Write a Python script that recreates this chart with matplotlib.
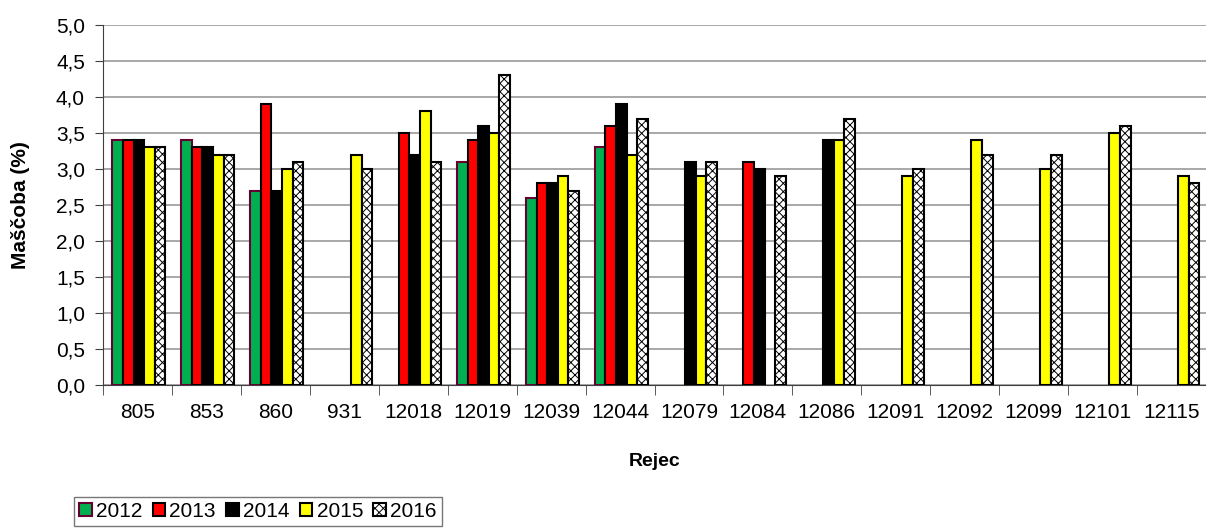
import matplotlib
matplotlib.use("Agg")

import numpy as np
import matplotlib.pyplot as plt

plt.rcParams['font.family'] = ['Liberation Sans', 'DejaVu Sans']
plt.rcParams['hatch.linewidth'] = 0.7

# Podatki
rejci = ["805", "853", "860", "931", "12018", "12019", "12039", "12044",
         "12079", "12084", "12086", "12091", "12092", "12099", "12101", "12115"]
leta = ["2012", "2013", "2014", "2015", "2016"]

nan = np.nan
v2012 = [3.4, 3.4, 2.7, nan, nan, 3.1, 2.6, 3.3, nan, nan, nan, nan, nan, nan, nan, nan]
v2013 = [3.4, 3.3, 3.9, nan, 3.5, 3.4, 2.8, 3.6, nan, 3.1, nan, nan, nan, nan, nan, nan]
v2014 = [3.4, 3.3, 2.7, nan, 3.2, 3.6, 2.8, 3.9, 3.1, 3.0, 3.4, nan, nan, nan, nan, nan]
v2015 = [3.3, 3.2, 3.0, 3.2, 3.8, 3.5, 2.9, 3.2, 2.9, nan, 3.4, 2.9, 3.4, 3.0, 3.5, 2.9]
v2016 = [3.3, 3.2, 3.1, 3.0, 3.1, 4.3, 2.7, 3.7, 3.1, 2.9, 3.7, 3.0, 3.2, 3.2, 3.6, 2.8]

serije = [v2012, v2013, v2014, v2015, v2016]
barve = ["#00b050", "#ff0000", "#000000", "#ffff00", "#ffffff"]
robovi = ["#660033", "#000000", "#000000", "#000000", "#000000"]
vzorci = [None, None, None, None, "xxxx"]

fig = plt.figure(figsize=(12.06, 5.31), dpi=100)
ax = fig.add_axes([103 / 1206, 146 / 531, 1 - 103 / 1206, 360 / 531])

x = np.arange(len(rejci))
w = 0.154
for i, (vals, leto) in enumerate(zip(serije, leta)):
    ax.bar(x + (i - 2) * w + 0.02, vals, width=w, color=barve[i], edgecolor=robovi[i],
           linewidth=1.5, hatch=vzorci[i], label=leto, zorder=3)

ax.set_xlim(-0.5, len(rejci) - 0.5)
ax.set_ylim(0, 5)
yt = np.arange(0, 5.01, 0.5)
ax.set_yticks(yt)
ax.set_yticklabels([f"{t:.1f}".replace(".", ",") for t in yt])
ax.yaxis.grid(True, color="#999999", linewidth=1.2)
ax.set_axisbelow(True)

ax.set_xticks(x)
ax.set_xticklabels(rejci)
ax.set_xticks(np.arange(-0.5, len(rejci), 1), minor=True)
ax.tick_params(axis="x", which="major", length=0, pad=13, labelsize=15)
ax.tick_params(axis="x", which="minor", length=7, direction="out", color="#404040")
ax.tick_params(axis="y", length=6, direction="out", labelsize=15, pad=7, color="#404040")

for s in ["top", "right"]:
    ax.spines[s].set_visible(False)
ax.spines["left"].set_color("#404040")
ax.spines["bottom"].set_color("#404040")

ax.set_xlabel("Rejec", fontsize=14, fontweight="bold", labelpad=22)
ax.set_ylabel("Maščoba (%)", fontsize=15, fontweight="bold")
ax.yaxis.set_label_coords(-73 / 1103, 0.5)

leg = fig.legend(loc="upper left", bbox_to_anchor=(74 / 1206, 1 - 497 / 531), ncol=5,
                 fontsize=15, handlelength=0.6, handleheight=0.6, handletextpad=0.2,
                 columnspacing=0.5, borderpad=0.25, borderaxespad=0, fancybox=False,
                 frameon=True)
leg.get_frame().set_edgecolor("#555555")
leg.get_frame().set_linewidth(1.0)

plt.savefig("out.png", dpi=100)
